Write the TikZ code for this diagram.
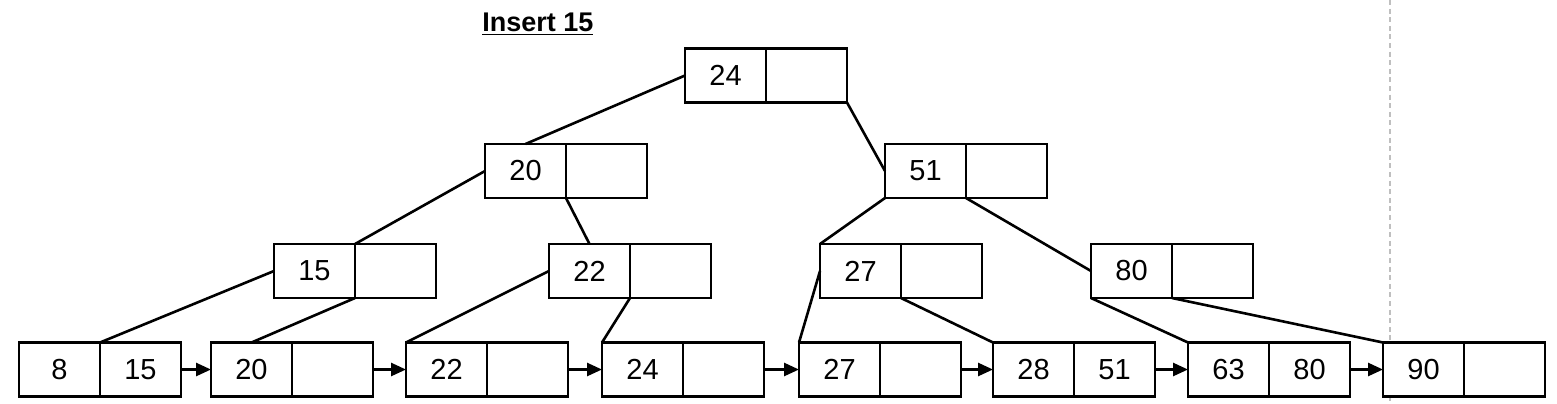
\documentclass[tikz,border=0pt]{standalone}
\usepackage{fontspec}
\setmainfont{Liberation Sans}
\usepackage{tikz}
\usetikzlibrary{arrows.meta, positioning}
\tikzset{
        cell/.style={rectangle, draw, fill=white, minimum width=40.5pt, minimum height=27pt, inner sep=0pt, outer sep=0pt, line width=1.3pt, font=\fontsize{14.5}{17}\selectfont},
        edge/.style={line width=1.3pt},
        arrow/.style={-{Triangle[length=7.5pt, width=6.5pt]}, line width=1.3pt},
        guide/.style={gray!50, dashed, dash pattern=on 2.5pt off 1.8pt, line width=0.6pt},
    }

\begin{document}
\begin{tikzpicture}[x=0.5pt, y=-0.5pt]
        \useasboundingbox (0,0) rectangle (1557,403);

        % Guide line
        \draw[guide] (1390,0) -- (1390,403);

        % Title
        \node[anchor=base west, inner sep=0pt, font=\fontsize{13.5}{16}\selectfont] (title) at (482,31) {\underline{\textbf{Insert 15}}};

        % Root
        \node[cell] (root) at (725.5,75.5) {24};
        \node[cell, right=0pt of root] (rootb) {};

        % Level 1
        \node[cell] (n20) at (525.5,171) {20};
        \node[cell, right=0pt of n20] (n20b) {};
        \node[cell] (n51) at (925.5,171) {51};
        \node[cell, right=0pt of n51] (n51b) {};

        % Level 2
        \node[cell] (n15) at (314.5,271) {15};
        \node[cell, right=0pt of n15] (n15b) {};
        \node[cell] (n22) at (589.5,271) {22};
        \node[cell, right=0pt of n22] (n22b) {};
        \node[cell] (n27) at (860.5,271) {27};
        \node[cell, right=0pt of n27] (n27b) {};
        \node[cell] (n80) at (1131.5,271) {80};
        \node[cell, right=0pt of n80] (n80b) {};

        % Leaves
        \node[cell] (l8) at (59.5,369.5) {8};
        \node[cell, right=0pt of l8] (l8b) {15};
        \node[cell] (l20) at (251.5,369.5) {20};
        \node[cell, right=0pt of l20] (l20b) {};
        \node[cell] (l22) at (446.5,369.5) {22};
        \node[cell, right=0pt of l22] (l22b) {};
        \node[cell] (l24) at (642.5,369.5) {24};
        \node[cell, right=0pt of l24] (l24b) {};
        \node[cell] (l27) at (839.5,369.5) {27};
        \node[cell, right=0pt of l27] (l27b) {};
        \node[cell] (l28) at (1033.5,369.5) {28};
        \node[cell, right=0pt of l28] (l28b) {51};
        \node[cell] (l63) at (1228.5,369.5) {63};
        \node[cell, right=0pt of l63] (l63b) {80};
        \node[cell] (l90) at (1423.5,369.5) {90};
        \node[cell, right=0pt of l90] (l90b) {};

        % Tree edges
        \draw[edge] (root.west) -- (n20.north);
        \draw[edge] (rootb.south east) -- (n51.west);
        \draw[edge] (n20.west) -- (n15.north east);
        \draw[edge] (n20.south east) -- (n22.north);
        \draw[edge] (n51.south west) -- (n27.north west);
        \draw[edge] (n51.south east) -- (n80.west);
        \draw[edge] (n15.west) -- (l8.north east);
        \draw[edge] (n15.south east) -- (l20.north);
        \draw[edge] (n22.west) -- (l22.north west);
        \draw[edge] (n22.south east) -- (l24.north west);
        \draw[edge] (n27.west) -- (l27.north west);
        \draw[edge] (n27.south east) -- (l28.north west);
        \draw[edge] (n80.south west) -- (l63.north west);
        \draw[edge] (n80.south east) -- (l90.north west);

        % Leaf links
        \draw[arrow] (l8b.east) -- (l20.west);
        \draw[arrow] (l20b.east) -- (l22.west);
        \draw[arrow] (l22b.east) -- (l24.west);
        \draw[arrow] (l24b.east) -- (l27.west);
        \draw[arrow] (l27b.east) -- (l28.west);
        \draw[arrow] (l28b.east) -- (l63.west);
        \draw[arrow] (l63b.east) -- (l90.west);

    \end{tikzpicture}
\end{document}
